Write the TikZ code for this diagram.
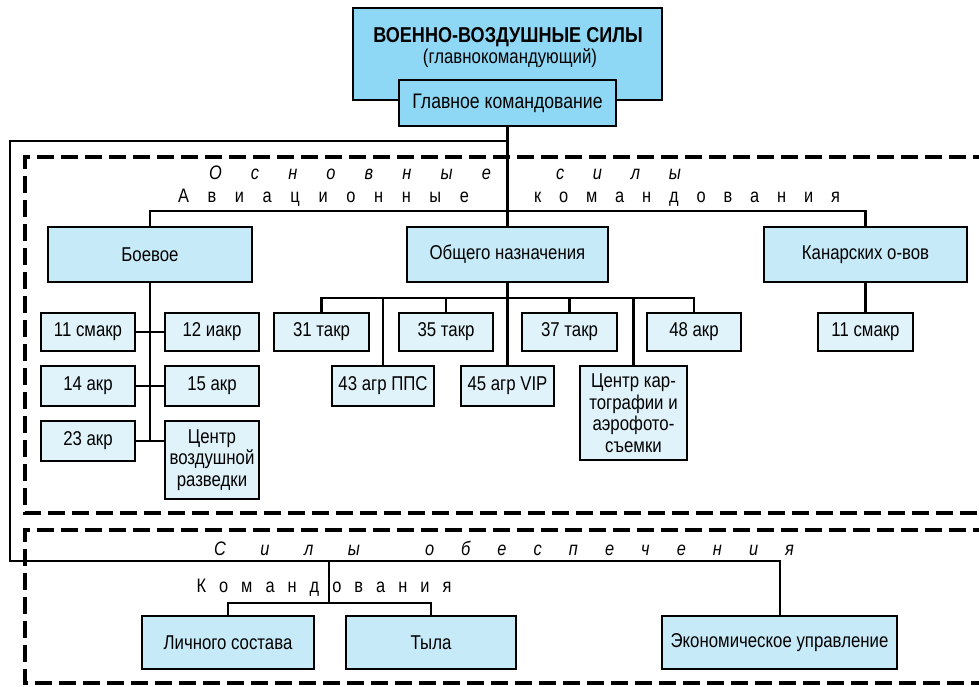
\documentclass[tikz,border=0pt]{standalone}
\usepackage{fontspec}
\setmainfont[FakeStretch=0.84]{Liberation Sans}
\definecolor{topblue}{HTML}{8ED8F5}
\definecolor{midblue}{HTML}{C6EAF8}
\definecolor{lightblue}{HTML}{E0F3FB}
\newcommand{\bx}[7]{%
  \pgfmathsetmacro{\mybw}{#5-#3}\pgfmathsetmacro{\mybh}{#6-#4}%
  \node[#1, minimum width=\mybw pt, minimum height=\mybh pt] (#2) at ({(#3+#5)/2},{(#4+#6)/2}) {#7};}
\begin{document}
\begin{tikzpicture}[x=1pt,y=-1pt,
  box/.style={draw=black, line width=2.6pt, inner sep=1pt, align=center, font=\fontsize{20}{21.5}\selectfont, anchor=center},
  topbox/.style={box, fill=topblue},
  midbox/.style={box, fill=midblue},
  lowbox/.style={box, fill=lightblue},
  conn/.style={line width=2.4pt},
  dashbox/.style={line width=4pt, dash pattern=on 17pt off 7pt},
  spaced/.style={inner sep=0pt, font=\fontsize{19.5}{22}\selectfont},
  plain/.style={inner sep=0pt}]
\useasboundingbox (0,0) rectangle (979,686);
% dashed groups
\draw[dashbox] (990,157) -- (25,157) -- (25,513) -- (990,513);
\draw[dashbox] (990,530) -- (25,530) -- (25,683) -- (990,683);
% boxes
\bx{topbox}{vvs}{353}{8}{662}{100}{}
\node[plain, font=\bfseries\fontsize{21.5}{23}\selectfont] (vvst) at (508,37) {ВОЕННО-ВОЗДУШНЫЕ СИЛЫ};
\node[plain, font=\fontsize{20}{21}\selectfont] (vvss) at (510,58) {(главнокомандующий)};
\bx{topbox}{gk}{399}{80}{616}{126}{\fontsize{21}{22}\selectfont Главное командование}
\bx{midbox}{boev}{48}{227}{252}{282}{Боевое}
\bx{midbox}{obsh}{407}{227}{608}{282}{Общего назначения}
\bx{midbox}{kan}{764}{227}{967}{282}{Канарских о-вов}
\bx{lowbox}{b11}{41}{313}{135}{351}{11 смакр}
\bx{lowbox}{b12}{165}{313}{259}{351}{12 иакр}
\bx{lowbox}{b14}{41}{366}{135}{406}{14 акр}
\bx{lowbox}{b15}{165}{366}{259}{406}{15 акр}
\bx{lowbox}{b23}{41}{421}{135}{461}{23 акр}
\bx{lowbox}{bcvr}{165}{421}{259}{499}{Центр\\воздушной\\разведки}
\bx{lowbox}{t31}{274}{313}{369}{351}{31 такр}
\bx{lowbox}{t35}{399}{313}{493}{351}{35 такр}
\bx{lowbox}{t37}{522}{313}{617}{351}{37 такр}
\bx{lowbox}{a48}{647}{313}{741}{351}{48 акр}
\bx{lowbox}{g43}{332}{366}{434}{406}{43 агр ППС}
\bx{lowbox}{g45}{461}{366}{554}{406}{45 агр VIP}
\bx{lowbox}{ckart}{580}{366}{687}{460}{Центр кар-\\тографии и\\аэрофото-\\съемки}
\bx{lowbox}{k11}{818}{313}{913}{351}{11 смакр}
\bx{midbox}{ls}{142}{616}{314}{669}{Личного состава}
\bx{midbox}{tyl}{346}{616}{516}{669}{Тыла}
\bx{midbox}{econ}{662}{616}{897}{669}{Экономическое управление}
% coordinates
\coordinate (cA) at (507,141);
\coordinate (cB) at (10,141);
\coordinate (cC) at (10,561);
\coordinate (cD) at (780,561);
\coordinate (av) at (0,211);
\coordinate (og) at (0,298);
\coordinate (kc) at (329,561);
\coordinate (kh) at (0,603);
% connectors
\draw[conn] (gk.south) -- (obsh.north);
\draw[conn] (cA) -- (cB) -- (cC) -- (cD) -- (cD |- econ.north);
\draw[conn] (boev.north) -- (boev.north |- av) -- (kan.north |- av) -- (kan.north);
\draw[conn] (boev.south) -- (boev.south |- b23.east);
\draw[conn] (b11.east) -- (b12.west);
\draw[conn] (b14.east) -- (b15.west);
\draw[conn] (b23.east) -- (b23.east -| bcvr.west);
\draw[conn] (t31.north) -- (t31.north |- og) -- (a48.north |- og) -- (a48.north);
\draw[conn] (obsh.south) -- (obsh.south |- og);
\draw[conn] (t35.north) -- (t35.north |- og);
\draw[conn] (t37.north) -- (t37.north |- og);
\draw[conn] (g43.north) -- (g43.north |- og);
\draw[conn] (g45.north) -- (g45.north |- og);
\draw[conn] (ckart.north) -- (ckart.north |- og);
\draw[conn] (kan.south) -- (k11.north);
\draw[conn] (kc) -- (kc |- kh);
\draw[conn] (ls.north) -- (ls.north |- kh) -- (tyl.north |- kh) -- (tyl.north);
% spaced labels
\node[spaced] (tos) at (445,173) {\itshape\makebox[282pt][s]{О с н о в н ы е}\hspace{65pt}\makebox[125pt][s]{с и л ы}};
\node[spaced] (tav) at (509,198) {\makebox[291pt][s]{А в и а ц и о н н ы е}\hspace{65pt}\makebox[306pt][s]{к о м а н д о в а н и я}};
\node[spaced] (tso) at (504,548) {\itshape\makebox[146pt][s]{С и л ы}\hspace{65pt}\makebox[369pt][s]{о б е с п е ч е н и я}};
\node[spaced] (tkm) at (324,588) {\makebox[255pt][s]{К о м а н д о в а н и я}};
\end{tikzpicture}
\end{document}
